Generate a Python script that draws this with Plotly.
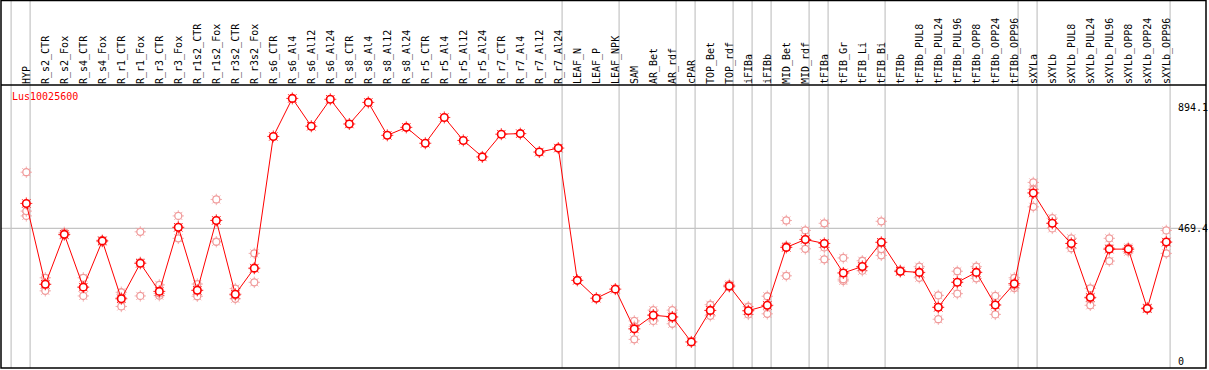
import plotly.graph_objects as go

categories = ["HYP", "R_s2_CTR", "R_s2_Fox", "R_s4_CTR", "R_s4_Fox", "R_r1_CTR", "R_r1_Fox",
              "R_r3_CTR", "R_r3_Fox", "R_r1s2_CTR", "R_r1s2_Fox", "R_r3s2_CTR", "R_r3s2_Fox",
              "R_s6_CTR", "R_s6_Al4", "R_s6_Al12", "R_s6_Al24", "R_s8_CTR", "R_s8_Al4", "R_s8_Al12",
              "R_s8_Al24", "R_r5_CTR", "R_r5_Al4", "R_r5_Al12", "R_r5_Al24", "R_r7_CTR", "R_r7_Al4",
              "R_r7_Al12", "R_r7_Al24", "LEAF_N", "LEAF_P", "LEAF_NPK", "SAM", "AR_Bet", "AR_rdf",
              "cPAR", "TOP_Bet", "TOP_rdf", "iFIBa", "iFIBb", "MID_Bet", "MID_rdf", "tFIBa",
              "tFIB_Gr", "tFIB_Li", "tFIB_Bi", "tFIBb", "tFIBb_PUL8", "tFIBb_PUL24", "tFIBb_PUL96",
              "tFIBb_OPP8", "tFIBb_OPP24", "tFIBb_OPP96", "sXYLa", "sXYLb", "sXYLb_PUL8",
              "sXYLb_PUL24", "sXYLb_PUL96", "sXYLb_OPP8", "sXYLb_OPP24", "sXYLb_OPP96"]

means = [557, 272, 448, 262, 425, 221, 346, 247, 473, 251, 497, 237, 329,
         793, 927, 829, 924, 837, 913, 797, 825, 769, 860, 779, 721, 801, 803, 738, 752,
         286, 223, 255, 115, 163, 157, 69, 180, 266, 179, 198, 402, 430, 416,
         312, 335, 420, 318, 314, 191, 279, 314, 199, 274, 594, 487, 416,
         226, 396, 396, 187, 421]

N = None
rep1 = [667, 295, 455, 295, 428, 244, 457, 270, 513, 273, 571, 257, 381,
        N, N, N, N, N, N, N, N, N, N, N, N, N, N, N, N, N, N, N,
        143, 181, 181, N, 200, 272, 193, 230, 497, 462, 487,
        365, 355, 494, 322, 334, 233, 318, 334, 231, 295, 631, 505, 434,
        258, 434, 402, 190, 462]
rep2 = [513, 249, 445, 231, 422, 194, 231, 232, 434, 230, 422, 221, 279,
        N, N, N, N, N, N, N, N, N, N, N, N, N, N, N, N, N, N, N,
        78, 143, 133, N, 161, 262, 166, 168, 302, 397, 360,
        284, 320, 374, 316, 295, 149, 239, 293, 166, 259, 545, 469, 399,
        198, 354, 387, 185, 381]
rep3 = [530, 272, 448, 262, 425, 225, 350, 240, 472, 250, 498, 233, 327,
        N, N, N, N, N, N, N, N, N, N, N, N, N, N, N, N, N, N, N,
        124, 165, 157, N, 180, 266, 178, 196, 407, 431, 402,
        290, 331, 396, 319, 313, 191, 280, 315, 200, 268, 606, 487, 416,
        222, 400, 396, 187, 420]

gene_name = "Lus10025600"
y_tick_vals = [0, 469.4, 894.1]
y_tick_text = ["0", "469.4", "894.1"]
separator_after = [-1, 0, 28, 31, 34, 35, 37, 38, 39, 41, 42, 45, 52, 53, 60]

W, H = 1209, 370
ml, mr, mt, mb = 1, 3, 85, 2
pw, ph = W - ml - mr, H - mt - mb
x_range = [-1.332, 62.09]
y_range = [-22.9, 974.3]

xs = list(range(len(categories)))
MONO = "DejaVu Sans Mono"
RED = "#ff0000"
PINK = "#f09a9a"


def xpaper(v):
    return (v - x_range[0]) / (x_range[1] - x_range[0])


def ypix_paper(py):
    return (H - mb - py) / ph


fig = go.Figure()

for reps in (rep1, rep2, rep3):
    fig.add_trace(go.Scatter(x=xs, y=reps, mode="markers",
                             marker=dict(symbol="asterisk-open", size=9.5, color=PINK,
                                         line=dict(color=PINK, width=0.8)),
                             hoverinfo="skip", showlegend=False))
    fig.add_trace(go.Scatter(x=xs, y=reps, mode="markers",
                             marker=dict(symbol="circle", size=7, color="white",
                                         line=dict(color=PINK, width=1.3)),
                             showlegend=False))

fig.add_trace(go.Scatter(x=xs, y=means, mode="lines", line=dict(color=RED, width=1),
                         hoverinfo="skip", showlegend=False))
fig.add_trace(go.Scatter(x=xs, y=means, mode="markers",
                         marker=dict(symbol="asterisk-open", size=10, color=RED,
                                     line=dict(color=RED, width=0.8)),
                         hoverinfo="skip", showlegend=False))
fig.add_trace(go.Scatter(x=xs, y=means, mode="markers",
                         marker=dict(symbol="circle", size=7.5, color="white",
                                     line=dict(color=RED, width=1.6)),
                         showlegend=False))

shapes = []
top_paper = ypix_paper(0.5)
for s in separator_after:
    xp = xpaper(s + 0.2)
    shapes.append(dict(type="line", xref="paper", yref="paper", x0=xp, x1=xp,
                       y0=0, y1=top_paper, line=dict(color="#c4c4c4", width=1.2), layer="below"))
shapes.append(dict(type="line", xref="paper", yref="y", x0=0, x1=1, y0=469.4, y1=469.4,
                   line=dict(color="#c4c4c4", width=1.2), layer="below"))
shapes.append(dict(type="rect", xref="paper", yref="paper", x0=0, x1=1, y0=0, y1=top_paper,
                   line=dict(color="black", width=1.5)))
shapes.append(dict(type="line", xref="paper", yref="paper", x0=0, x1=1, y0=1, y1=1,
                   line=dict(color="black", width=1.5)))

fig.update_layout(
    width=W, height=H,
    margin=dict(l=ml, r=mr, t=mt, b=mb, pad=0),
    paper_bgcolor="white", plot_bgcolor="white",
    shapes=shapes,
    font=dict(family=MONO, size=10, color="black"),
    xaxis=dict(range=x_range, side="top", tickmode="array", tickvals=xs, ticktext=categories,
               tickangle=-90, ticks="", showgrid=False, zeroline=False, showline=False,
               tickfont=dict(family=MONO, size=10, color="black"), ticklabelstandoff=0),
    yaxis=dict(range=y_range, anchor="free", position=(1177 - ml) / pw, side="right",
               tickmode="array", tickvals=y_tick_vals, ticktext=y_tick_text, ticks="",
               showgrid=False, zeroline=False, showline=False,
               tickfont=dict(family=MONO, size=10, color="black")),
    annotations=[dict(text=gene_name, xref="paper", yref="paper", x=(10 - ml) / pw,
                      y=ypix_paper(97), xanchor="left", yanchor="middle", showarrow=False,
                      font=dict(family=MONO, size=10, color=RED))],
)

fig.write_html("out.html", config={"displayModeBar": False},
               post_script="document.body.style.margin='0';")
